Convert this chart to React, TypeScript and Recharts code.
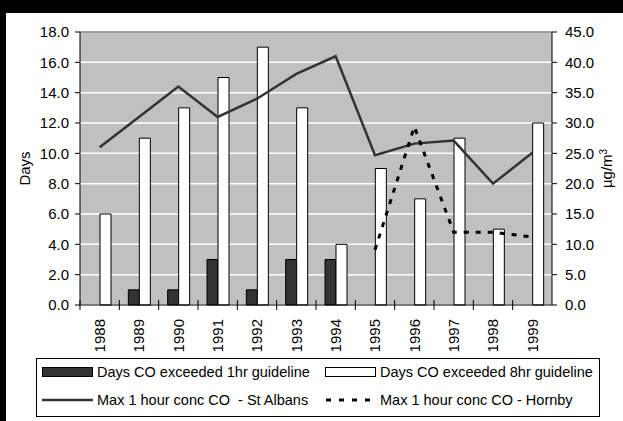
import React from "react";
import {
  ComposedChart,
  Bar,
  Line,
  XAxis,
  YAxis,
  CartesianGrid,
  ReferenceLine,
} from "recharts";

const years = [
  "1988", "1989", "1990", "1991", "1992", "1993",
  "1994", "1995", "1996", "1997", "1998", "1999",
];
// days over guideline (left axis)
const days1hr = [0, 1, 1, 3, 1, 3, 3, 0, 0, 0, 0, 0];
const days8hr = [6, 11, 13, 15, 17, 13, 4, 9, 7, 11, 5, 12];
// max 1 hour concentration (right axis)
const stAlbans = [26, 31, 36, 31, 34, 38.1, 41, 24.7, 26.6, 27.1, 20, 25.1];
const hornby = [null, null, null, null, null, null, null, 9.1, 29.4, 12, 12, 11.2];

const daysTicks = [0, 2, 4, 6, 8, 10, 12, 14, 16, 18];
const concTicks = [0, 5, 10, 15, 20, 25, 30, 35, 40, 45];

const NAME_1HR = "Days CO exceeded 1hr guideline";
const NAME_8HR = "Days CO exceeded 8hr guideline";
const NAME_STA = "Max 1 hour conc CO  - St Albans";
const NAME_HOR = "Max 1 hour conc CO - Hornby";

const data = years.map((year, i) => ({
  year,
  d1: days1hr[i],
  d8: days8hr[i],
  sta: stAlbans[i],
  hor: hornby[i],
}));

const FONT = "'Liberation Sans', Arial, sans-serif";
const W = 623;
const H = 421;
const PLOT_LEFT = 80;
const PLOT_RIGHT = 552;
const BAND = (PLOT_RIGHT - PLOT_LEFT) / years.length;

const YearTick = (props: any) => {
  const { x, y, payload } = props;
  const edge = x - BAND / 2;
  const ty = y + 14;
  return (
    <g>
      <line x1={edge} x2={edge} y1={y - 5} y2={y + 5} stroke="#000" />
      <text
        x={x}
        y={ty}
        dy="0.36em"
        textAnchor="end"
        transform={`rotate(-90, ${x}, ${ty})`}
        fontSize={15}
        fontFamily={FONT}
        fill="#000"
      >
        {payload.value}
      </text>
    </g>
  );
};

const DaysLabel = (props: any) => {
  const { viewBox } = props;
  const cx = viewBox.x + 19;
  const cy = viewBox.y + viewBox.height / 2;
  return (
    <text
      x={cx}
      y={cy}
      dy="0.36em"
      textAnchor="middle"
      transform={`rotate(-90, ${cx}, ${cy})`}
      fontSize={15}
      fontFamily={FONT}
      fill="#000"
    >
      Days
    </text>
  );
};

const UnitLabel = (props: any) => {
  const { viewBox } = props;
  const cx = viewBox.x + 55;
  const cy = viewBox.y + viewBox.height / 2;
  return (
    <text
      x={cx}
      y={cy}
      dy="0.36em"
      textAnchor="middle"
      transform={`rotate(-90, ${cx}, ${cy})`}
      fontSize={15}
      fontFamily={FONT}
      fill="#000"
    >
      µg/m
      <tspan dy="-0.55em" fontSize={10}>
        3
      </tspan>
    </text>
  );
};

const tickStyle = { fontSize: 15, fontFamily: FONT, fill: "#000" };
const fmt = (v: number) => v.toFixed(1);

const LegendBox = () => {
  const row = (top: number) => ({
    position: "absolute" as const,
    top,
    height: 16,
    display: "flex",
    alignItems: "center",
  });
  const text = {
    fontSize: 14.5,
    fontFamily: FONT,
    color: "#000",
    whiteSpace: "pre" as const,
    marginLeft: 4,
  };
  return (
    <div
      style={{
        position: "absolute",
        left: 36,
        top: 358,
        width: 564,
        height: 59,
        border: "1px solid #000",
        boxSizing: "border-box",
        background: "#fff",
      }}
    >
      <div style={{ ...row(5), left: 5 }}>
        <svg width={51} height={10}>
          <rect x={0.5} y={0.5} width={50} height={9} fill="#333" stroke="#000" />
        </svg>
        <span style={text}>{NAME_1HR}</span>
      </div>
      <div style={{ ...row(5), left: 288 }}>
        <svg width={51} height={10}>
          <rect x={0.5} y={0.5} width={50} height={9} fill="#fff" stroke="#000" />
        </svg>
        <span style={text}>{NAME_8HR}</span>
      </div>
      <div style={{ ...row(33), left: 5 }}>
        <svg width={51} height={10}>
          <line x1={0} x2={51} y1={5} y2={5} stroke="#333" strokeWidth={2.5} />
        </svg>
        <span style={text}>{NAME_STA}</span>
      </div>
      <div style={{ ...row(33), left: 288 }}>
        <svg width={51} height={10}>
          <line
            x1={1}
            x2={51}
            y1={5}
            y2={5}
            stroke="#000"
            strokeWidth={3}
            strokeDasharray="5 8"
          />
        </svg>
        <span style={text}>{NAME_HOR}</span>
      </div>
    </div>
  );
};

export default function App() {
  return (
    <div
      style={{
        position: "absolute",
        left: 0,
        top: 0,
        width: W,
        height: H,
        background: "#fff",
        overflow: "hidden",
      }}
    >
      <div style={{ position: "absolute", left: 0, top: 0, width: W, height: 13, background: "#000" }} />
      <div style={{ position: "absolute", left: 0, top: 0, width: 6, height: H, background: "#000" }} />
      <div style={{ position: "absolute", left: 0, top: 0 }}>
        <ComposedChart
          width={W}
          height={H}
          data={data}
          margin={{ top: 32, right: 6, left: 6, bottom: 66 }}
          barSize={11}
          barGap={0}
        >
          <CartesianGrid
            yAxisId="days"
            vertical={false}
            stroke="#fff"
            strokeWidth={1.5}
            fill="#c0c0c0"
            fillOpacity={1}
          />
          <XAxis
            dataKey="year"
            height={50}
            interval={0}
            tickSize={0}
            tickMargin={0}
            tickLine={false}
            stroke="#000"
            tick={<YearTick />}
          />
          <YAxis
            yAxisId="days"
            orientation="left"
            width={74}
            domain={[0, 18]}
            ticks={daysTicks}
            tickFormatter={fmt}
            tickSize={5}
            tickMargin={6}
            stroke="#000"
            tick={tickStyle}
            label={DaysLabel}
          />
          <YAxis
            yAxisId="conc"
            orientation="right"
            width={65}
            domain={[0, 45]}
            ticks={concTicks}
            tickFormatter={fmt}
            tickSize={5}
            tickMargin={8}
            stroke="#000"
            tick={tickStyle}
            label={UnitLabel}
          />
          <ReferenceLine yAxisId="days" y={18} stroke="#808080" strokeWidth={1.5} />
          <Bar
            yAxisId="days"
            dataKey="d1"
            name={NAME_1HR}
            fill="#333333"
            stroke="#000"
            strokeWidth={1}
            isAnimationActive={false}
          />
          <Bar
            yAxisId="days"
            dataKey="d8"
            name={NAME_8HR}
            fill="#ffffff"
            stroke="#000"
            strokeWidth={1}
            isAnimationActive={false}
          />
          <Line
            yAxisId="conc"
            dataKey="sta"
            name={NAME_STA}
            type="linear"
            stroke="#333333"
            strokeWidth={2.5}
            dot={false}
            activeDot={false}
            isAnimationActive={false}
          />
          <Line
            yAxisId="conc"
            dataKey="hor"
            name={NAME_HOR}
            type="linear"
            stroke="#000"
            strokeWidth={3}
            strokeDasharray="5 7"
            dot={false}
            activeDot={false}
            connectNulls={false}
            isAnimationActive={false}
          />
        </ComposedChart>
      </div>
      <LegendBox />
    </div>
  );
}
